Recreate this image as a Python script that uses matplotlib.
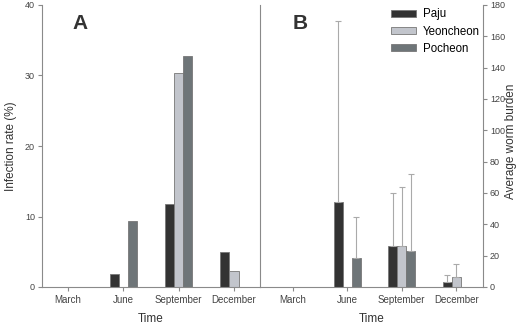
import matplotlib
matplotlib.use("Agg")
import matplotlib.pyplot as plt
import numpy as np

plt.rcParams["font.family"] = ["Liberation Sans", "DejaVu Sans"]

months = ["March", "June", "September", "December"]
sites = ["Paju", "Yeoncheon", "Pocheon"]
colors = ["#333333", "#c2c5cc", "#6e7578"]

# infection rate (%)
rate = {
    "Paju": [0, 1.8, 11.8, 4.9],
    "Yeoncheon": [0, 0, 30.4, 2.2],
    "Pocheon": [0, 9.3, 32.7, 0],
}
# average worm burden and upper error
burden = {
    "Paju": [0, 54, 26, 3.5],
    "Yeoncheon": [0, 0, 26, 6.5],
    "Pocheon": [0, 18.5, 23, 0],
}
burden_err = {
    "Paju": [0, 116, 34, 4],
    "Yeoncheon": [0, 0, 38, 8],
    "Pocheon": [0, 26.5, 49, 0],
}

W, H = 521, 328
fig = plt.figure(figsize=(W / 100, H / 100), dpi=100)
axA = fig.add_axes([42 / W, 41 / H, 218 / W, 282 / H])
axB = fig.add_axes([260 / W, 41 / H, 223 / W, 282 / H])

x = np.arange(len(months))
bw = 0.165
spine_c = "#8a8a8a"


def style(ax):
    for s in ax.spines.values():
        s.set_color(spine_c)
        s.set_linewidth(0.8)
    ax.spines["top"].set_visible(False)
    ax.tick_params(colors="#444444", labelsize=7, length=3, width=0.8, pad=2.5)
    ax.tick_params(axis="both", color=spine_c)
    ax.tick_params(axis="y", labelsize=6.5, pad=2)
    ax.set_xticks(x)
    ax.set_xticklabels(months)
    ax.set_xlabel("Time", fontsize=8.5, color="#333333", labelpad=6)


# panel A
for i, s in enumerate(sites):
    vals = np.array(rate[s])
    m = vals > 0
    axA.bar(x[m] + (i - 1) * bw, vals[m], bw, color=colors[i],
            edgecolor="#777777", linewidth=0.6, label=s)
axA.set_ylim(0, 40)
axA.set_xlim(-0.47, 3.47)
axA.set_yticks([0, 10, 20, 30, 40])
axA.spines["right"].set_visible(False)
axA.set_ylabel("Infection rate (%)", fontsize=8.5, color="#333333", labelpad=6)
style(axA)
axA.text(0.138, 0.935, "A", transform=axA.transAxes, fontsize=15,
         fontweight="bold", color="#333333", va="center")

# panel B
for i, s in enumerate(sites):
    vals = np.array(burden[s])
    err = np.array(burden_err[s])
    m = vals > 0
    axB.bar(x[m] + (i - 1) * bw, vals[m], bw, color=colors[i],
            edgecolor="#777777", linewidth=0.6, label=s)
    axB.errorbar(x[m] + (i - 1) * bw, vals[m],
                 yerr=[np.zeros(m.sum()), err[m]], fmt="none",
                 ecolor="#aaaaaa", elinewidth=0.8, capsize=2.5, capthick=0.8)
axB.set_ylim(0, 180)
axB.set_xlim(-0.6, 3.49)
axB.set_yticks(np.arange(0, 181, 20))
axB.yaxis.tick_right()
style(axB)
fig.text(511 / W, 0.57, "Average worm burden", rotation=90, fontsize=8.5,
         color="#333333", ha="center", va="center")
axB.text(0.148, 0.935, "B", transform=axB.transAxes, fontsize=15,
         fontweight="bold", color="#333333", va="center")
axB.legend(loc="upper right", bbox_to_anchor=(1.0, 1.0), frameon=False,
           fontsize=8.3, handlelength=2.2, handleheight=0.6,
           labelspacing=0.45, borderpad=0.2, handletextpad=0.55,
           borderaxespad=0.1)

fig.savefig("out.png", dpi=100)
